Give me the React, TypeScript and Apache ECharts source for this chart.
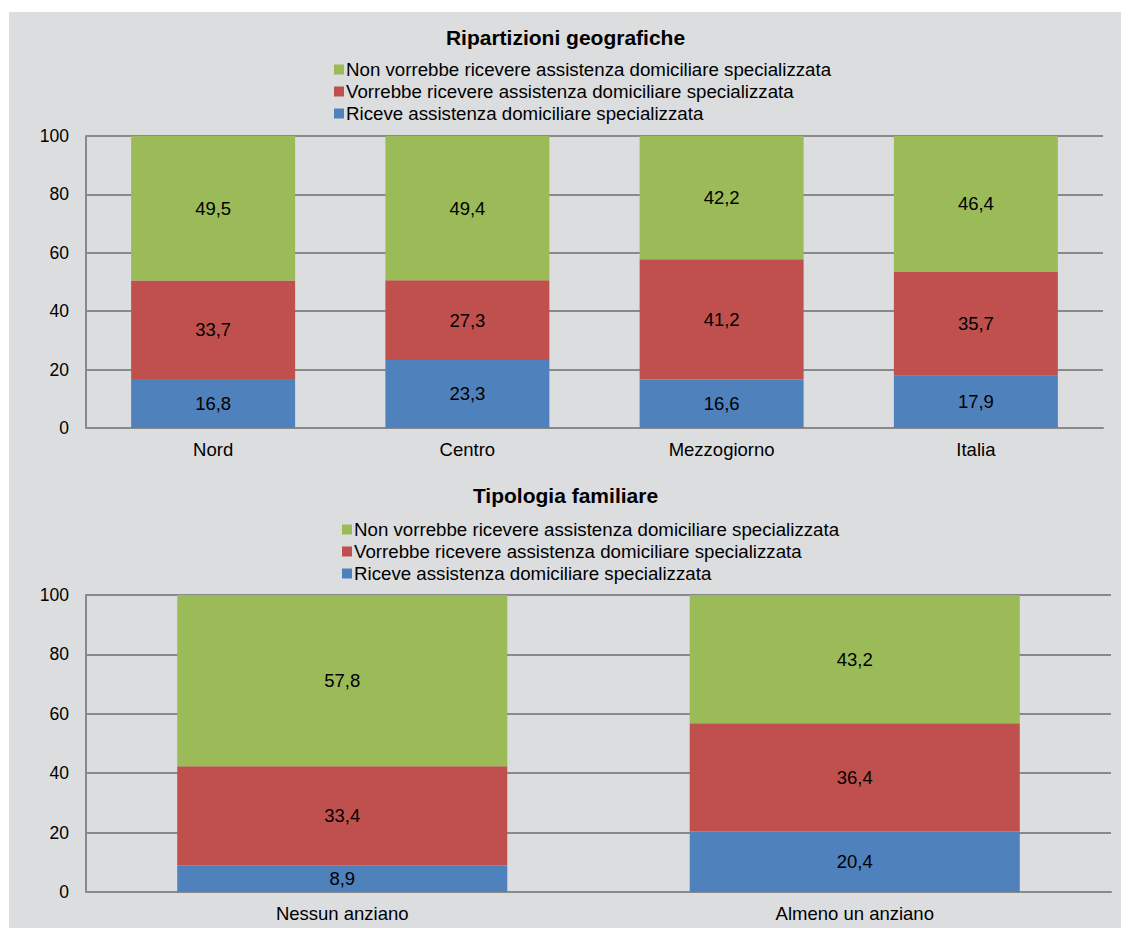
import React, { useEffect, useRef } from "react";
import * as echarts from "echarts";

const regions = ["Nord", "Centro", "Mezzogiorno", "Italia"];
const families = ["Nessun anziano", "Almeno un anziano"];
const seriesNames = [
  "Non vorrebbe ricevere assistenza domiciliare specializzata",
  "Vorrebbe ricevere assistenza domiciliare specializzata",
  "Riceve assistenza domiciliare specializzata",
];
const regRiceve = [16.8, 23.3, 16.6, 17.9];
const regVorrebbe = [33.7, 27.3, 41.2, 35.7];
const regNon = [49.5, 49.4, 42.2, 46.4];
const famRiceve = [8.9, 20.4];
const famVorrebbe = [33.4, 36.4];
const famNon = [57.8, 43.2];
const yTicks = [0, 20, 40, 60, 80, 100];

const GREEN = "#9bbb59";
const RED = "#c0504d";
const BLUE = "#4f81bd";
const FONT = "'Liberation Sans', Arial, sans-serif";

export default function App() {
  const ref = useRef<HTMLDivElement>(null);
  useEffect(() => {
    const chart = echarts.init(ref.current!, null, { renderer: "svg" });
    const label = {
      show: true,
      position: "inside",
      color: "#000",
      fontSize: 18.5,
      fontFamily: FONT,
      formatter: (p: any) => String(p.value).replace(".", ","),
    };
    const mkSeries = (idx: number, stack: string, data: number[][], bw: string) => {
      const colors = [BLUE, RED, GREEN];
      const names = [seriesNames[2], seriesNames[1], seriesNames[0]];
      return data.map((d, i) => ({
        type: "bar",
        name: names[i],
        stack,
        xAxisIndex: idx,
        yAxisIndex: idx,
        barWidth: bw,
        data: d,
        itemStyle: { color: colors[i] },
        label,
      }));
    };
    const yAxis = (gi: number) => ({
      type: "value",
      gridIndex: gi,
      min: 0,
      max: 100,
      interval: 20,
      axisLine: { show: true, lineStyle: { color: "#898989", width: 2 } },
      axisTick: { show: false },
      axisLabel: { color: "#000", fontSize: 17.5, fontFamily: FONT, margin: 17, formatter: (v: number) => (yTicks.includes(v) ? String(v) : "") },
      splitLine: { show: true, lineStyle: { color: "#898989", width: 2 } },
    });
    const xAxis = (gi: number, data: string[]) => ({
      type: "category",
      gridIndex: gi,
      data,
      axisLine: { show: true, lineStyle: { color: "#898989", width: 2 } },
      axisTick: { show: false },
      axisLabel: { color: "#000", fontSize: 18.5, fontFamily: FONT, margin: 12 },
    });
    const legend = (top: number, left: number) => ({
      orient: "vertical",
      top,
      left,
      itemWidth: 10,
      itemHeight: 10,
      itemGap: 3,
      icon: "rect",
      data: seriesNames,
      selectedMode: false,
      textStyle: { color: "#000", fontSize: 18.7, fontFamily: FONT, lineHeight: 18, padding: [0, 0, 0, -3] },
    });
    chart.setOption({
      animation: false,
      backgroundColor: "#ffffff",
      graphic: [
        { type: "rect", shape: { x: 9, y: 12, width: 1112, height: 916 }, style: { fill: "#dcdddf" }, z: -10 },
      ],
      title: [
        { text: "Ripartizioni geografiche", left: "center", top: 22, textStyle: { fontSize: 21, fontWeight: "bold", fontFamily: FONT, color: "#000" } },
        { text: "Tipologia familiare", left: "center", top: 480, textStyle: { fontSize: 21, fontWeight: "bold", fontFamily: FONT, color: "#000" } },
      ],
      legend: [legend(55, 329), legend(515, 337)],
      grid: [
        { left: 86, top: 136, width: 1017, height: 292 },
        { left: 86, top: 595, width: 1025, height: 297 },
      ],
      xAxis: [xAxis(0, regions), xAxis(1, families)],
      yAxis: [yAxis(0), yAxis(1)],
      series: [
        ...mkSeries(0, "a", [regRiceve, regVorrebbe, regNon], "64.5%"),
        ...mkSeries(1, "b", [famRiceve, famVorrebbe, famNon], "64.4%"),
      ],
    });
    return () => chart.dispose();
  }, []);
  return <div ref={ref} style={{ position: "absolute", left: 0, top: 0, width: 1131, height: 934 }} />;
}
